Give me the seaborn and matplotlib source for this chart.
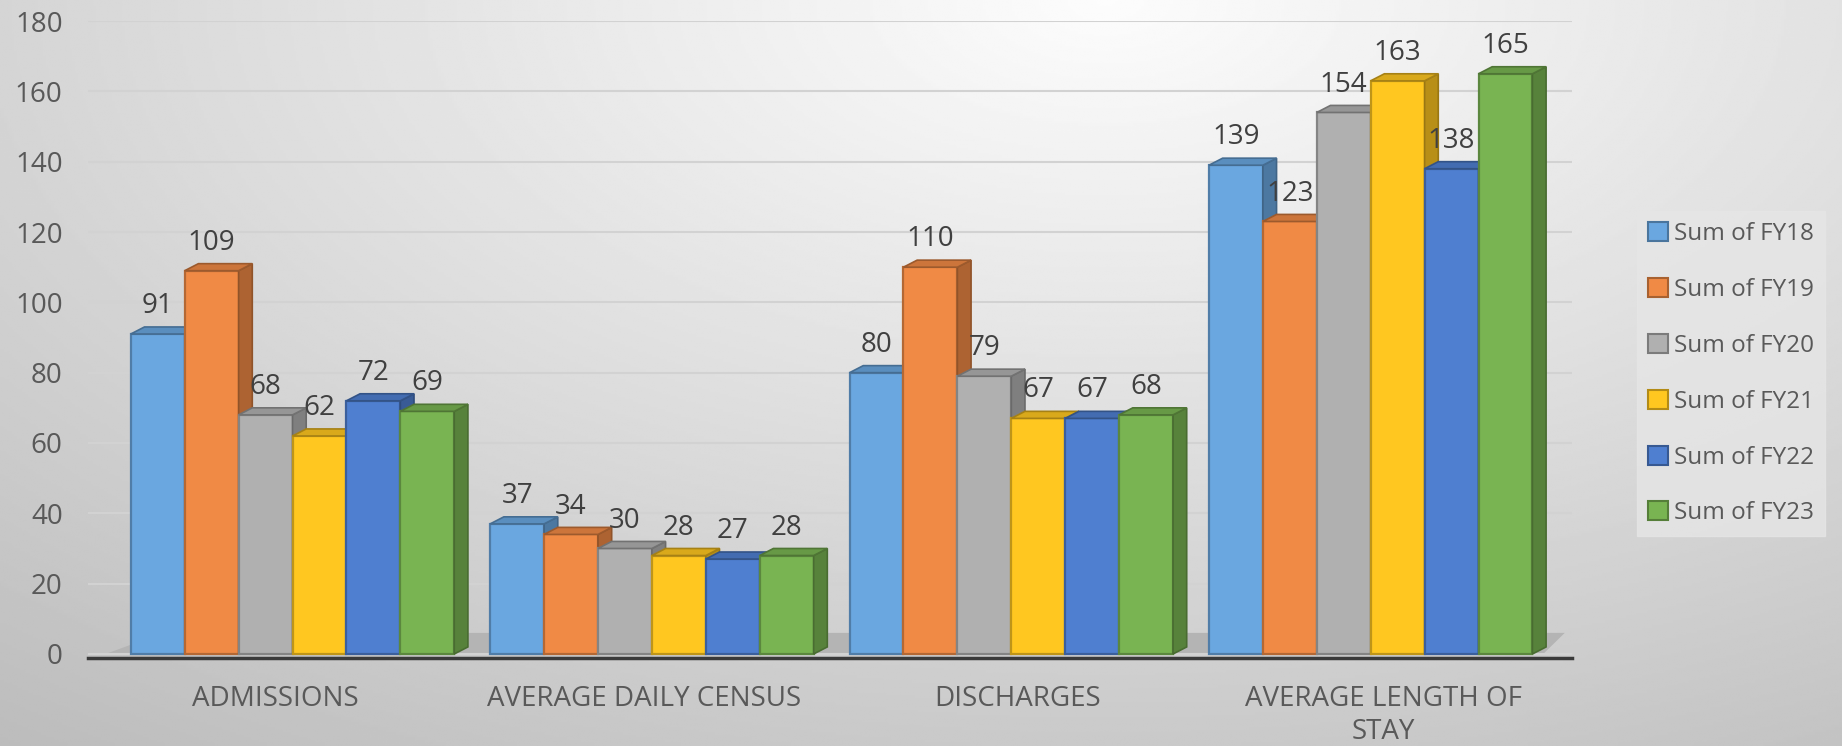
import numpy as np
import pandas as pd
import matplotlib
matplotlib.use("Agg")
import matplotlib.pyplot as plt
import matplotlib.colors as mcolors
import matplotlib.transforms as mtransforms
from matplotlib.patches import Polygon, Patch
import seaborn as sns

# chart data
categories = ["ADMISSIONS", "AVERAGE DAILY CENSUS", "DISCHARGES", "AVERAGE LENGTH OF\nSTAY"]
series = ["Sum of FY18", "Sum of FY19", "Sum of FY20", "Sum of FY21", "Sum of FY22", "Sum of FY23"]
fy18 = [91, 37, 80, 139]
fy19 = [109, 34, 110, 123]
fy20 = [68, 30, 79, 154]
fy21 = [62, 28, 67, 163]
fy22 = [72, 27, 67, 138]
fy23 = [69, 28, 68, 165]
colors = ["#6aa7e0", "#f08a45", "#b0b0b0", "#ffc720", "#4f7fd0", "#79b452"]

df = pd.DataFrame({"category": categories, "Sum of FY18": fy18, "Sum of FY19": fy19,
                   "Sum of FY20": fy20, "Sum of FY21": fy21, "Sum of FY22": fy22,
                   "Sum of FY23": fy23})
long = df.melt(id_vars="category", var_name="series", value_name="value")

sns.set_style("white")
plt.rcParams['font.family'] = ['Open Sans', 'DejaVu Sans']

def shade(c, f):
    rgb = np.array(mcolors.to_rgb(c))
    return tuple(np.clip(rgb * f, 0, 1)) if f < 1 else tuple(rgb + (1 - rgb) * (f - 1))

fig = plt.figure(figsize=(18.42, 7.46), dpi=100)

# gradient background like the excel chart area
bg = fig.add_axes([0, 0, 1, 1], zorder=-10)
yy, xx = np.mgrid[0:1:300j, 0:1:700j]
r = np.sqrt(((xx - 0.6) / 0.85) ** 2 + ((yy - 1.0) / 1.1) ** 2)
bg.imshow(0.99 - 0.22 * np.clip(r, 0, 1.2), cmap="gray", vmin=0, vmax=1,
          extent=[0, 1, 0, 1], origin="lower", aspect="auto")
bg.axis("off")

ax = fig.add_axes([0.0476, 0.1177, 0.8058, 0.8541])
ax.patch.set_alpha(0)

sns.barplot(data=long, x="category", y="value", hue="series", palette=colors,
            width=0.9, saturation=1, ax=ax, legend=False, linewidth=1.6)

ax.set_ylim(-1.2, 180)
ax.set_xlim(-0.57, 3.56)

# floor band behind bars
ax.fill([-0.52, 3.48, 3.54, -0.36], [0, 0, 6, 6], color="#b4b4b4", zorder=0.5, lw=0)

dx, dy = 0.038, 2.0
for j, cont in enumerate(ax.containers):
    c = colors[j]
    for bar in cont:
        x0, w, h = bar.get_x(), bar.get_width(), bar.get_height()
        bar.set_edgecolor(shade(c, 0.75))
        bar.set_zorder(10 + 2 * j)
        side = Polygon([(x0 + w, 0), (x0 + w + dx, dy), (x0 + w + dx, h + dy), (x0 + w, h)],
                       closed=True, facecolor=shade(c, 0.72), edgecolor=shade(c, 0.6),
                       lw=1.2, zorder=11 + 2 * j)
        top = Polygon([(x0, h), (x0 + dx, h + dy), (x0 + w + dx, h + dy), (x0 + w, h)],
                      closed=True, facecolor=shade(c, 0.85), edgecolor=shade(c, 0.65),
                      lw=1.2, zorder=11 + 2 * j)
        ax.add_patch(side)
        ax.add_patch(top)
        ax.annotate(f"{h:.0f}", (x0 + w / 2, h), xytext=(0, 10), textcoords="offset points",
                    ha="center", va="bottom", fontsize=20, color="#404040", zorder=40)

ax.yaxis.grid(True, color="#d2d2d2", lw=1.5)
ax.set_axisbelow(True)
ax.set_yticks(range(0, 181, 20))
for s in ["top", "right", "left"]:
    ax.spines[s].set_visible(False)
ax.spines["bottom"].set_color("#3a3a3a")
ax.spines["bottom"].set_linewidth(2.5)
ax.tick_params(axis="y", length=0, pad=18, labelsize=20, labelcolor="#595959")
ax.tick_params(axis="x", length=0, pad=19, labelsize=20, labelcolor="#595959")
ax.set_xlabel("")
ax.set_ylabel("")

# the category captions sit slightly off the bar groups in the 3d original
shifts = [-17, -8, 6, 13]
for lab, s in zip(ax.get_xticklabels(), shifts):
    lab.set_transform(lab.get_transform() + mtransforms.ScaledTranslation(s / 100, 0, fig.dpi_scale_trans))
    lab.set_linespacing(1.25)

handles = [Patch(facecolor=c, edgecolor=shade(c, 0.7), lw=1.5) for c in colors]
leg = fig.legend(handles, series, loc="center left", bbox_to_anchor=(0.882, 0.499),
                 fontsize=17.5, frameon=True, handlelength=0.82, handleheight=0.82,
                 handletextpad=0.25, labelspacing=1.31, borderpad=0.45, fancybox=False)
leg.get_frame().set_facecolor("#e6e6e6")
leg.get_frame().set_edgecolor("#e6e6e6")
for t in leg.get_texts():
    t.set_color("#595959")

plt.savefig("out.png", dpi=100)
plt.close()
